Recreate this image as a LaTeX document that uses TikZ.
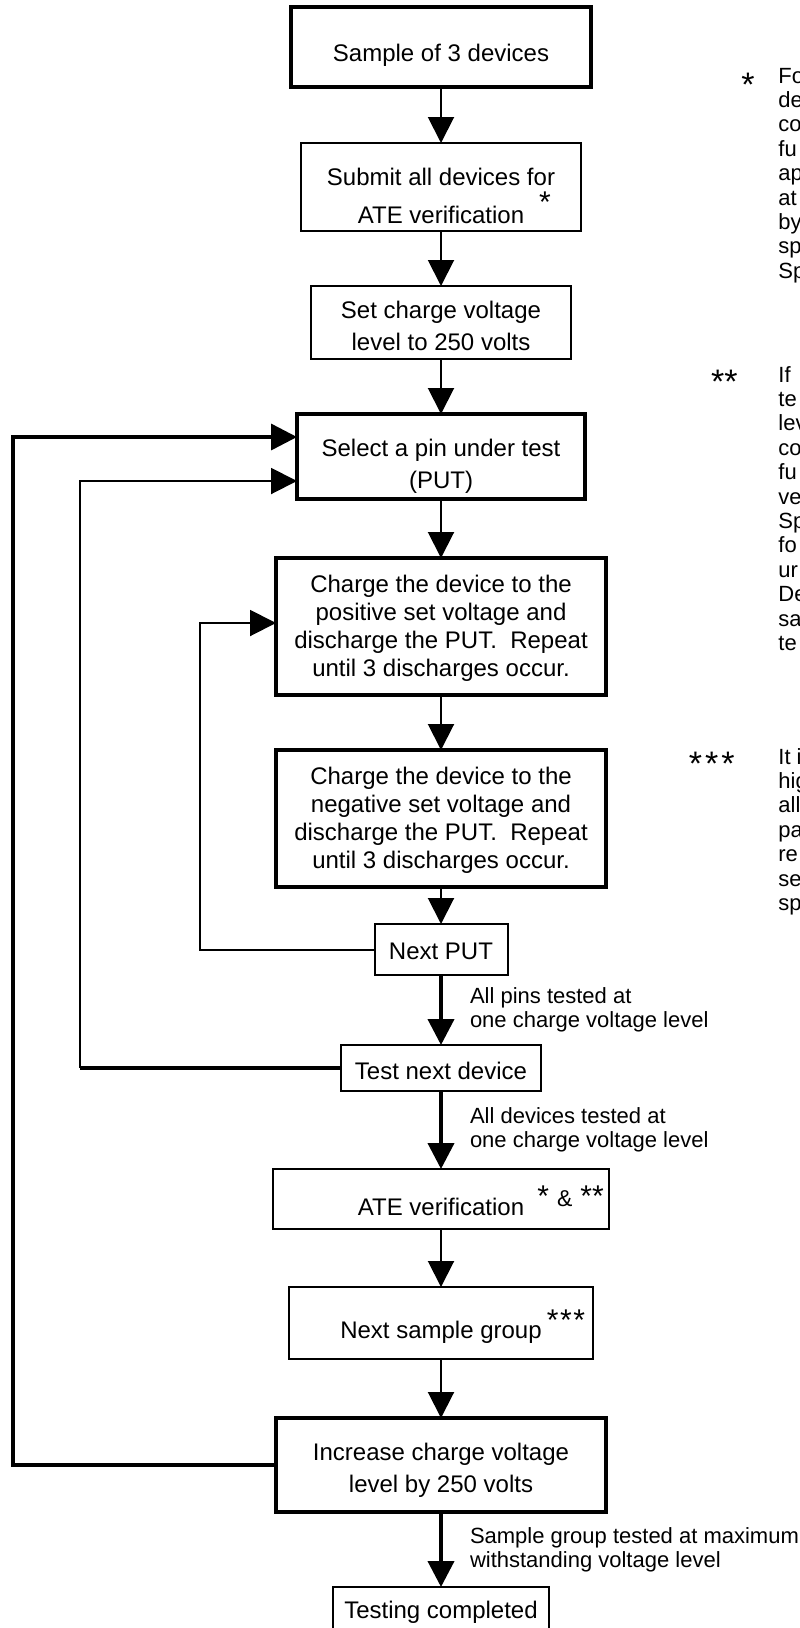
\documentclass[tikz,border=0pt]{standalone}
\usepackage{fontspec}
\setmainfont{Liberation Sans}
\usetikzlibrary{arrows.meta,positioning}
\newcommand{\hstr}[1]{\rule{0pt}{#1}}
\newcommand{\dstr}{\rule[-3pt]{0pt}{3pt}}
\newcommand{\astr}[1]{{\fontsize{15}{15}\selectfont #1}}

\begin{document}
\begin{tikzpicture}[x=0.5pt, y=-0.5pt, >={Triangle[length=13pt,width=13pt]},
  proc/.style={draw, line width=1pt, inner sep=0pt, outer sep=0pt, align=center,
    font=\fontsize{12}{16}\selectfont},
  procb/.style={proc, line width=1.75pt},
  flow/.style={->, line width=1pt},
  flowb/.style={->, line width=2pt},
  cond/.style={anchor=west, xshift=13.5pt, inner sep=0pt, align=left,
    font=\fontsize{11}{12.2}\selectfont},
  stars/.style={inner sep=0pt, font=\fontsize{15}{15}\selectfont},
  fnstars/.style={inner sep=0pt, anchor=base east, font=\fontsize{17}{17}\selectfont},
  note/.style={anchor=base west, inner sep=0pt, font=\fontsize{11}{12}\selectfont}]
\useasboundingbox (0,0) rectangle (799,1628);

% main column
\node[procb, minimum width=150pt, minimum height=40pt] (sample) at (441,47)
  {\hstr{17.9pt}Sample of 3 devices\dstr};
\node[proc, minimum width=140pt, minimum height=44pt, below=28pt of sample] (submit)
  {\hstr{20.6pt}Submit all devices for\\[3pt]ATE verification\dstr};
\node[proc, minimum width=130pt, minimum height=36.5pt, below=27.5pt of submit] (setv)
  {\hstr{15.1pt}Set charge voltage\\level to 250 volts\dstr};
\node[procb, minimum width=144pt, minimum height=42.5pt, below=27.5pt of setv] (select)
  {\hstr{19.1pt}Select a pin under test\\(PUT)\dstr};
\node[procb, minimum width=165pt, minimum height=68.5pt, below=29.5pt of select,
  font=\fontsize{12}{14}\selectfont] (posv)
  {\hstr{11.1pt}Charge the device to the\\positive set voltage and\\
   discharge the PUT.~ Repeat\\until 3 discharges occur.\dstr};
\node[procb, minimum width=165pt, minimum height=68.5pt, below=27.5pt of posv,
  font=\fontsize{12}{14}\selectfont] (negv)
  {\hstr{11.1pt}Charge the device to the\\negative set voltage and\\
   discharge the PUT.~ Repeat\\until 3 discharges occur.\dstr};
\node[proc, minimum width=66.5pt, minimum height=25.5pt, below=18.5pt of negv] (nextput)
  {\hstr{13.1pt}Next PUT\dstr};
\node[proc, line width=1.25pt, minimum width=100pt, minimum height=23pt,
  below=35pt of nextput] (testdev) {\hstr{14.3pt}Test next device\dstr};
\node[proc, minimum width=168pt, minimum height=30pt, below=39pt of testdev] (ateverif)
  {\hstr{19.6pt}ATE verification\dstr};
\node[proc, minimum width=152pt, minimum height=36pt, below=29pt of ateverif] (nextgrp)
  {\hstr{18.6pt}Next sample group\dstr};
\node[procb, minimum width=165pt, minimum height=47pt, below=29.5pt of nextgrp] (incr)
  {\hstr{14.6pt}Increase charge voltage\\level by 250 volts\dstr};
\node[proc, minimum width=108pt, minimum height=26pt, below=37.5pt of incr] (done)
  {Testing completed\dstr};

% asterisks at the boxes
\node[stars, anchor=base] (st1) at ([shift={(104,25)}]submit.center) {*};
\node[stars, anchor=base west, font=\fontsize{11.5}{11.5}\selectfont] (st2)
  at ([shift={(96,7)}]ateverif.center) {\astr{*}\hspace{4pt}\&\hspace{4pt}\astr{**}};
\node[stars, anchor=base] (st3) at ([shift={(125,7.4)}]nextgrp.center)
  {*\kern0.75pt*\kern0.75pt*};

% arrows down the column
\draw[flow] (sample.south) -- (submit.north);
\draw[flow] (submit.south) -- (setv.north);
\draw[flow] (setv.south) -- (select.north);
\draw[flow] (select.south) -- (posv.north);
\draw[flow] (posv.south) -- (negv.north);
\draw[flow] (negv.south) -- (nextput.north);
\draw[flowb] (nextput.south) -- node[cond] {All pins tested at\\one charge voltage level} (testdev.north);
\draw[flowb] (testdev.south) -- node[cond] {All devices tested at\\one charge voltage level} (ateverif.north);
\draw[flow] (ateverif.south) -- (nextgrp.north);
\draw[flow] (nextgrp.south) -- (incr.north);
\draw[flowb] (incr.south) -- node[cond] {Sample group tested at maximum\\withstanding voltage level} (done.north);

% loops back
\coordinate (oa) at (13,437);
\coordinate (ob) at (80,481);
\coordinate (oc) at (200,623);
\draw[flow, line width=1.75pt] (incr.west) -| (oa) -- (oa -| select.west);
\draw[line width=2pt] (testdev.west) -- (testdev.west -| ob);
\draw[flow] (testdev.west -| ob) -- (ob) -- (ob -| select.west);
\draw[flow] (nextput.west) -| (oc) -- (oc -| posv.west);

% footnotes, cut at the right edge
\node[fnstars] (fn1) at (755,96.7) {*};
\node[fnstars] (fn2) at (738,393.7) {**};
\node[fnstars] (fn3) at (735,775.7) {*\kern1.5pt*\kern1.5pt*};
\foreach \t [count=\i] in {Fo,de,co,fu,ap,at,by,sp,Sp}
  \node[note] (fa-\i) at (778,{83+24.4*(\i-1)}) {\t};
\foreach \t [count=\i] in {If,te,lev,co,fu,ve,Sp,fo,ur,De,sa,te}
  \node[note] (fb-\i) at (778,{382+24.4*(\i-1)}) {\t};
\foreach \t [count=\i] in {It i,hig,all,pa,re,se,sp}
  \node[note] (fc-\i) at (778,{764+24.4*(\i-1)}) {\t};
\end{tikzpicture}
\end{document}
